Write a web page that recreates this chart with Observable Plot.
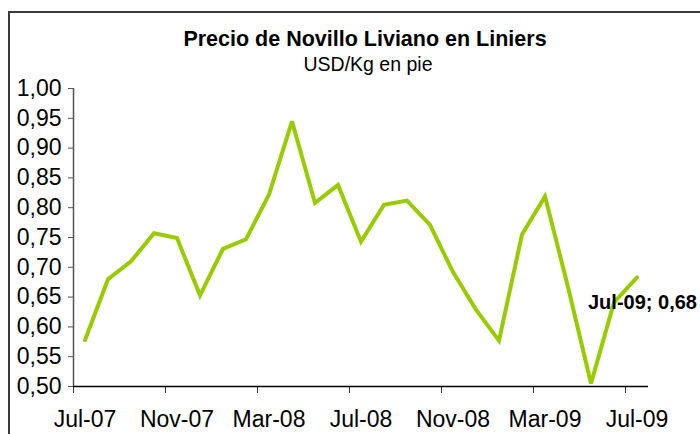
<!DOCTYPE html>
<html>
<head>
<meta charset="utf-8">
<script src="https://cdn.jsdelivr.net/npm/d3@7"></script>
<script src="https://cdn.jsdelivr.net/npm/@observablehq/plot@0.6"></script>
<style>
  html, body { margin: 0; padding: 0; background: #fff; overflow: hidden; }
  #wrap { position: relative; width: 700px; height: 434px; overflow: hidden; }
  #border { position: absolute; left: 8px; top: 11px; width: 800px; height: 600px;
            border: 2px solid #3a3a3a; box-sizing: border-box; }
  #chart { position: absolute; left: 0; top: 0; }
</style>
</head>
<body>
<div id="wrap"><div id="border"></div><div id="chart"></div></div>
<script>
const title = "Precio de Novillo Liviano en Liniers";
const subtitle = "USD/Kg en pie";
const months = ["Jul-07","Ago-07","Sep-07","Oct-07","Nov-07","Dic-07","Ene-08","Feb-08",
  "Mar-08","Abr-08","May-08","Jun-08","Jul-08","Ago-08","Sep-08","Oct-08","Nov-08",
  "Dic-08","Ene-09","Feb-09","Mar-09","Abr-09","May-09","Jun-09","Jul-09"];
const prices = [0.578,0.680,0.710,0.757,0.749,0.653,0.731,0.747,0.822,0.945,0.808,0.838,
  0.743,0.805,0.812,0.771,0.692,0.629,0.577,0.755,0.819,0.667,0.505,0.641,0.683];
const yTicks = [0.50,0.55,0.60,0.65,0.70,0.75,0.80,0.85,0.90,0.95,1.00];
const xLabelIdx = [0,4,8,12,16,20,24];
const xBoundaryTicks = [-0.5,3.5,7.5,11.5,15.5,19.5,23.5];

const data = months.map((m, i) => ({i, month: m, price: prices[i]}));
const last = data[data.length - 1];
const fmt = v => v.toFixed(2).replace(".", ",");

const chart = Plot.plot({
  width: 700,
  height: 434,
  marginLeft: 73,
  marginRight: 52,
  marginTop: 88,
  marginBottom: 48,
  style: {fontFamily: "'Liberation Sans', Arial, sans-serif", fontSize: "23px", color: "#000", background: "transparent"},
  x: {domain: [-0.5, 24.5]},
  y: {domain: [0.5, 1.0]},
  marks: [
    Plot.text([title], {frameAnchor: "top", lineAnchor: "bottom", dy: -43, dx: 4, fontSize: 21.5, fontWeight: "bold", fill: "#000", style: "letter-spacing:-0.4px"}),
    Plot.text([subtitle], {frameAnchor: "top", lineAnchor: "bottom", dy: -18, dx: 7, fontSize: 19.5, fill: "#000", style: "letter-spacing:-0.4px"}),
    Plot.axisY({ticks: yTicks, tickSize: 5, tickPadding: 7, tickFormat: fmt, label: null, stroke: "#555", fontSize: 23}),
    Plot.ruleX([-0.5], {stroke: "#555", strokeWidth: 1.5}),
    Plot.axisX({ticks: xBoundaryTicks, tickSize: 7, tickFormat: () => "", label: null, stroke: "#333"}),
    Plot.axisX({ticks: xLabelIdx, tickSize: 0, tickPadding: 24, tickFormat: i => months[i], label: null, fontSize: 23}),
    Plot.ruleY([0.5], {stroke: "#000", strokeWidth: 1.5}),
    Plot.line(data, {x: "i", y: "price", stroke: "#99cc00", strokeWidth: 4, strokeLinejoin: "miter", strokeMiterlimit: 3}),
    Plot.text([last], {x: "i", y: "price", text: d => `${d.month}; ${fmt(d.price)}`, textAnchor: "start", dx: -49, dy: 25, fontSize: 20, fontWeight: "bold", fill: "#000"})
  ]
});
document.getElementById("chart").appendChild(chart);
</script>
</body>
</html>
